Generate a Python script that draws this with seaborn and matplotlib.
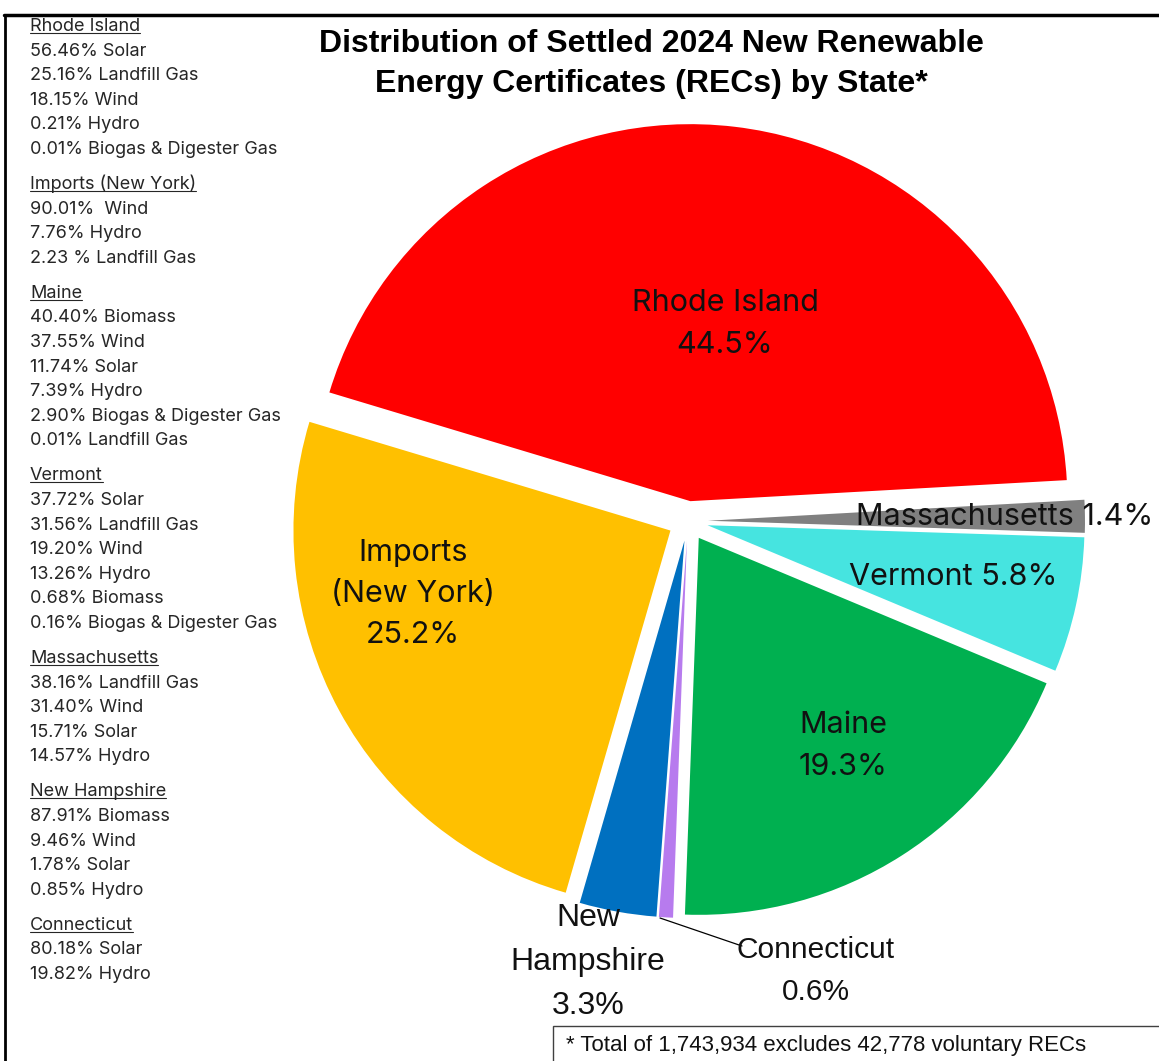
import matplotlib
matplotlib.use("Agg")
import matplotlib.pyplot as plt
from matplotlib.lines import Line2D
from matplotlib.patches import Rectangle
import seaborn as sns

sns.set_theme(style="white")
plt.rcParams["font.family"] = ["Inter", "DejaVu Sans"]

# ---- data -------------------------------------------------------------
states = ["Rhode Island", "Imports\n(New York)", "New\nHampshire", "Connecticut",
          "Maine", "Vermont", "Massachusetts"]
shares = [44.5, 25.2, 3.3, 0.6, 19.3, 5.8, 1.4]
colors = ["#FF0000", "#FFC000", "#0070C0", "#B77BEE", "#00B050", "#46E4E0", "#808080"]

mix_headers = ["Rhode Island", "Imports (New York)", "Maine", "Vermont",
               "Massachusetts", "New Hampshire", "Connecticut"]
mix_lines = [
    ["56.46% Solar", "25.16% Landfill Gas", "18.15% Wind", "0.21% Hydro",
     "0.01% Biogas & Digester Gas"],
    ["90.01%  Wind", "7.76% Hydro", "2.23 % Landfill Gas"],
    ["40.40% Biomass", "37.55% Wind", "11.74% Solar", "7.39% Hydro",
     "2.90% Biogas & Digester Gas", "0.01% Landfill Gas"],
    ["37.72% Solar", "31.56% Landfill Gas", "19.20% Wind", "13.26% Hydro",
     "0.68% Biomass", "0.16% Biogas & Digester Gas"],
    ["38.16% Landfill Gas", "31.40% Wind", "15.71% Solar", "14.57% Hydro"],
    ["87.91% Biomass", "9.46% Wind", "1.78% Solar", "0.85% Hydro"],
    ["80.18% Solar", "19.82% Hydro"],
]

title = "Distribution of Settled 2024 New Renewable\nEnergy Certificates (RECs) by State*"
footnote = "* Total of 1,743,934 excludes 42,778 voluntary RECs"

# ---- figure -----------------------------------------------------------
W, H = 1159, 1061
fig = plt.figure(figsize=(W / 100, H / 100), dpi=100)
fig.patch.set_facecolor("white")


def fx(px):
    return px / W


def fy(py):
    return 1 - py / H


# pie axes: centre (688, 521) px, radius 377 px
R = 377
cx, cy = 688, 521
span = 1.25
aw, ah = 2 * span * R / W, 2 * span * R / H
ax = fig.add_axes([fx(cx) - aw / 2, fy(cy) - ah / 2, aw, ah])
ax.set_xlim(-span, span)
ax.set_ylim(-span, span)
ax.set_aspect("equal")
ax.axis("off")

ax.pie(shares, colors=colors, startangle=3.2, counterclock=True,
       explode=[0.053] * len(shares), radius=1.0,
       wedgeprops=dict(linewidth=0))


def d(px, py):
    return ((px - cx) / R, (cy - py) / R)


label_font = ["Inter", "DejaVu Sans"]
narrow_font = ["Liberation Sans Narrow", "Liberation Sans", "DejaVu Sans"]
label_pos = {
    "Rhode Island": (d(725, 324), label_font, 22),
    "Imports\n(New York)": (d(413, 594), label_font, 22),
    "Maine": (d(843, 746), label_font, 22),
    "Vermont": (d(953, 577), label_font, 22),
    "Massachusetts": (d(1005, 517), label_font, 22),
    "New\nHampshire": (d(588, 962), narrow_font, 23),
    "Connecticut": (d(816, 971), narrow_font, 21.5),
}
for name, val in zip(states, shares):
    (x, y), fam, size = label_pos[name]
    if name in ("Vermont", "Massachusetts"):
        txt = f"{name} {val:.1f}%"
    else:
        txt = f"{name}\n{val:.1f}%"
    ax.text(x, y, txt, ha="center", va="center", fontsize=size,
            family=fam, color="#111111", linespacing=1.6)

# leader line for the thin Connecticut slice
(x0, y0), (x1, y1) = d(660, 918), d(742, 946)
ax.plot([x0, x1], [y0, y1], color="black", lw=0.9)

# ---- title ------------------------------------------------------------
fig.text(fx(651), fy(64), title, ha="center", va="center", fontsize=23,
         fontweight="bold", family=narrow_font, color="black", linespacing=1.42)

# ---- generation mix sidebar ----------------------------------------------
fig.canvas.draw()
renderer = fig.canvas.get_renderer()
base = 31
step = 24.6
for head, lines in zip(mix_headers, mix_lines):
    t = fig.text(fx(30), fy(base), head, ha="left", va="baseline", fontsize=13,
                 color="#262626")
    bb = t.get_window_extent(renderer)
    fig.add_artist(Line2D([fx(30), fx(30) + bb.width / W],
                          [fy(base + 2), fy(base + 2)], color="#262626", lw=0.8))
    for ln in lines:
        base += step
        fig.text(fx(30), fy(base), ln, ha="left", va="baseline", fontsize=13,
                 color="#262626")
    base += step + 10.4

# ---- footnote box -------------------------------------------------------
fig.add_artist(Rectangle((fx(553), fy(1075)), fx(640), (1075 - 1026) / H,
                         transform=fig.transFigure, fill=False,
                         edgecolor="#404040", lw=1.0))
fig.text(fx(566), fy(1046), footnote, ha="left", va="center", fontsize=16,
         family=narrow_font, color="#111111")

# ---- frame lines ---------------------------------------------------------
fig.add_artist(Line2D([fx(4), fx(W)], [fy(15), fy(15)], color="black", lw=2.5))
fig.add_artist(Line2D([fx(5), fx(5)], [fy(15), fy(H)], color="black", lw=2.0))

fig.savefig("out.png", dpi=100, facecolor="white")
